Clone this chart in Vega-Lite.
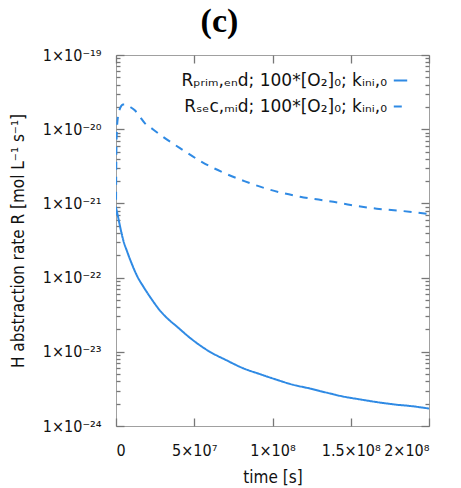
{
  "$schema": "https://vega.github.io/schema/vega-lite/v6.json",
  "autosize": {"type": "none"},
  "padding": {"left": 116, "top": 55, "right": 32, "bottom": 62},
  "width": 313,
  "height": 371,
  "title": {"text": "(c)", "font": "Liberation Serif", "fontSize": 34, "fontWeight": "bold", "frame": "bounds", "anchor": "middle", "offset": 8, "color": "#000"},
  "config": {
    "view": {"stroke": "#a0a0a0", "strokeWidth": 1},
    "axis": {"domain": false, "grid": false, "ticks": true, "labelFont": "DejaVu Sans Condensed", "labelFontSize": 16, "labelColor": "#111", "titleFont": "DejaVu Sans Condensed", "titleFontSize": 17, "titleFontWeight": "normal", "titleColor": "#111", "tickColor": "#777777", "tickWidth": 1.3},
    "legend": {"labelFont": "DejaVu Sans", "labelFontSize": 17, "labelColor": "#111"}
  },
  "data": {"values": [
    {"t": 0, "R": 8.7e-22, "s": "prim"},
    {"t": 1000000, "R": 7.1e-22, "s": "prim"},
    {"t": 2000000, "R": 5.6e-22, "s": "prim"},
    {"t": 3500000, "R": 4.0e-22, "s": "prim"},
    {"t": 5000000, "R": 3.0e-22, "s": "prim"},
    {"t": 6800000, "R": 2.34e-22, "s": "prim"},
    {"t": 10000000, "R": 1.55e-22, "s": "prim"},
    {"t": 13500000, "R": 1.05e-22, "s": "prim"},
    {"t": 17400000, "R": 7.6e-23, "s": "prim"},
    {"t": 22000000, "R": 5.4e-23, "s": "prim"},
    {"t": 28100000, "R": 3.6e-23, "s": "prim"},
    {"t": 33000000, "R": 2.8e-23, "s": "prim"},
    {"t": 38800000, "R": 2.2e-23, "s": "prim"},
    {"t": 48000000, "R": 1.5e-23, "s": "prim"},
    {"t": 60000000, "R": 1.0e-23, "s": "prim"},
    {"t": 70000000, "R": 7.8e-24, "s": "prim"},
    {"t": 81300000, "R": 6.0e-24, "s": "prim"},
    {"t": 92000000, "R": 5.0e-24, "s": "prim"},
    {"t": 102700000, "R": 4.2e-24, "s": "prim"},
    {"t": 113000000, "R": 3.6e-24, "s": "prim"},
    {"t": 124000000, "R": 3.2e-24, "s": "prim"},
    {"t": 135000000, "R": 2.8e-24, "s": "prim"},
    {"t": 145000000, "R": 2.5e-24, "s": "prim"},
    {"t": 155000000, "R": 2.3e-24, "s": "prim"},
    {"t": 166600000, "R": 2.1e-24, "s": "prim"},
    {"t": 178000000, "R": 1.95e-24, "s": "prim"},
    {"t": 189000000, "R": 1.85e-24, "s": "prim"},
    {"t": 200000000, "R": 1.72e-24, "s": "prim"},
    {"t": 0, "R": 7.0e-22, "s": "sec"},
    {"t": 100000, "R": 2.0e-21, "s": "sec"},
    {"t": 250000, "R": 5.0e-21, "s": "sec"},
    {"t": 600000, "R": 1.0e-20, "s": "sec"},
    {"t": 1300000, "R": 1.5e-20, "s": "sec"},
    {"t": 2800000, "R": 1.95e-20, "s": "sec"},
    {"t": 4500000, "R": 2.15e-20, "s": "sec"},
    {"t": 6500000, "R": 2.15e-20, "s": "sec"},
    {"t": 9000000, "R": 2.0e-20, "s": "sec"},
    {"t": 12000000, "R": 1.8e-20, "s": "sec"},
    {"t": 15000000, "R": 1.5e-20, "s": "sec"},
    {"t": 18500000, "R": 1.2e-20, "s": "sec"},
    {"t": 22400000, "R": 1.04e-20, "s": "sec"},
    {"t": 30000000, "R": 7.9e-21, "s": "sec"},
    {"t": 43000000, "R": 5.2e-21, "s": "sec"},
    {"t": 55000000, "R": 3.6e-21, "s": "sec"},
    {"t": 68600000, "R": 2.6e-21, "s": "sec"},
    {"t": 82000000, "R": 2.0e-21, "s": "sec"},
    {"t": 96000000, "R": 1.58e-21, "s": "sec"},
    {"t": 117600000, "R": 1.23e-21, "s": "sec"},
    {"t": 138900000, "R": 1.05e-21, "s": "sec"},
    {"t": 150000000, "R": 9.5e-22, "s": "sec"},
    {"t": 166600000, "R": 8.5e-22, "s": "sec"},
    {"t": 183000000, "R": 7.9e-22, "s": "sec"},
    {"t": 200000000, "R": 7.2e-22, "s": "sec"}
  ]},
  "resolve": {"axis": {"x": "independent", "y": "independent"}},
  "layer": [
    {
      "mark": {"type": "line", "strokeWidth": 2, "clip": true, "interpolate": "monotone"},
      "encoding": {
        "x": {"field": "t", "type": "quantitative", "scale": {"domain": [0, 200000000], "nice": false},
          "axis": {"orient": "bottom", "offset": -8, "tickSize": 8, "values": [0, 50000000, 100000000, 150000000, 200000000], "labelPadding": 16, "labelOverlap": false, "labelExpr": "['0','5×10⁷','1×10⁸','1.5×10⁸','2×10⁸'][round(datum.value/50000000)]", "title": "time [s]", "titlePadding": 11}},
        "y": {"field": "R", "type": "quantitative", "scale": {"type": "log", "domain": [1e-24, 1e-19], "nice": false},
          "axis": {"orient": "left", "offset": -8, "tickSize": 8, "values": [1e-24, 1e-23, 1e-22, 1e-21, 1e-20, 1e-19],
            "labelPadding": 15, "labelOverlap": false,
            "labelExpr": "'1×10' + ['⁻¹⁹','⁻²⁰','⁻²¹','⁻²²','⁻²³','⁻²⁴'][-19 - round(log(datum.value)/LN10)]",
            "title": "H abstraction rate R [mol L⁻¹ s⁻¹]", "titlePadding": 15}},
        "color": {"field": "s", "type": "nominal", "scale": {"domain": ["prim", "sec"], "range": ["#2f8ae4", "#2f8ae4"]},
          "legend": {"title": null, "orient": "top-right", "offset": 17, "labelAlign": "right", "labelOffset": -22, "labelLimit": 400, "symbolType": "stroke", "symbolSize": 180, "symbolStrokeWidth": 2, "rowPadding": 8,
            "labelExpr": "datum.value == 'prim' ? 'Rₚᵣᵢₘ,ₑₙd; 100*[O₂]₀; kᵢₙᵢ,₀' : 'Rₛₑc,ₘᵢd; 100*[O₂]₀; kᵢₙᵢ,₀'"}},
        "strokeDash": {"field": "s", "type": "nominal", "scale": {"domain": ["prim", "sec"], "range": [[1, 0], [8, 7]]}, "legend": null}
      }
    },
    {
      "mark": {"type": "line", "strokeOpacity": 0},
      "encoding": {
        "x": {"field": "t", "type": "quantitative",
          "axis": {"orient": "top", "offset": -8, "tickSize": 8, "values": [0, 50000000, 100000000, 150000000, 200000000], "labels": false, "title": null}},
        "y": {"field": "R", "type": "quantitative", "scale": {"type": "log"},
          "axis": {"orient": "right", "offset": -8, "tickSize": 8, "values": [1e-24, 1e-23, 1e-22, 1e-21, 1e-20, 1e-19], "labels": false, "title": null}},
        "detail": {"field": "s", "type": "nominal"}
      }
    },
    {
      "mark": {"type": "line", "strokeOpacity": 0},
      "encoding": {
        "x": {"field": "t", "type": "quantitative", "axis": null},
        "y": {"field": "R", "type": "quantitative", "scale": {"type": "log"},
          "axis": {"orient": "left", "offset": -4, "tickSize": 4, "values": [2e-24,3e-24,4e-24,5e-24,6e-24,7e-24,8e-24,9e-24,2e-23,3e-23,4e-23,5e-23,6e-23,7e-23,8e-23,9e-23,2e-22,3e-22,4e-22,5e-22,6e-22,7e-22,8e-22,9e-22,2e-21,3e-21,4e-21,5e-21,6e-21,7e-21,8e-21,9e-21,2e-20,3e-20,4e-20,5e-20,6e-20,7e-20,8e-20,9e-20], "labels": false, "title": null}},
        "detail": {"field": "s", "type": "nominal"}
      }
    },
    {
      "mark": {"type": "line", "strokeOpacity": 0},
      "encoding": {
        "x": {"field": "t", "type": "quantitative", "axis": null},
        "y": {"field": "R", "type": "quantitative", "scale": {"type": "log"},
          "axis": {"orient": "right", "offset": -4, "tickSize": 4, "values": [2e-24,3e-24,4e-24,5e-24,6e-24,7e-24,8e-24,9e-24,2e-23,3e-23,4e-23,5e-23,6e-23,7e-23,8e-23,9e-23,2e-22,3e-22,4e-22,5e-22,6e-22,7e-22,8e-22,9e-22,2e-21,3e-21,4e-21,5e-21,6e-21,7e-21,8e-21,9e-21,2e-20,3e-20,4e-20,5e-20,6e-20,7e-20,8e-20,9e-20], "labels": false, "title": null}},
        "detail": {"field": "s", "type": "nominal"}
      }
    }
  ]
}
